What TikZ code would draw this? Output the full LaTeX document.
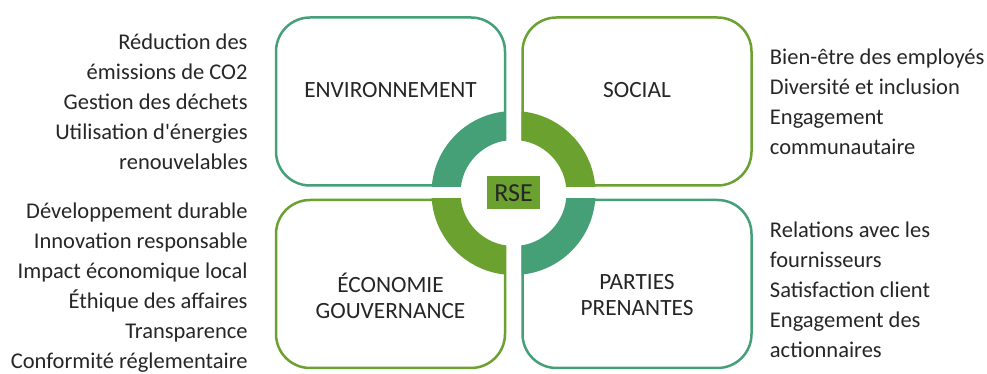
\documentclass[tikz,border=0pt]{standalone}
\usepackage{fontspec}
\setmainfont{Carlito}
\usetikzlibrary{positioning, calc}
\definecolor{rseteal}{HTML}{45A078}
\definecolor{rsegreen}{HTML}{6AA12F}
\definecolor{rsetext}{HTML}{262626}

\begin{document}
\begin{tikzpicture}[x=1pt, y=1pt,
	quadbox/.style={draw, line width=2.5pt, fill=white, rounded corners=34pt,
		minimum width=229pt, minimum height=168pt, inner sep=0pt},
	quadlabel/.style={text=rsetext, align=center, font=\fontsize{23.3}{26}\selectfont},
	sidetext/.style={text=rsetext, font=\fontsize{22.5}{30}\selectfont, inner sep=0pt}]
	\useasboundingbox (0,0) rectangle (987,374);
	\coordinate (hub) at (513.5,181);

	% the four pillars
	\node[quadbox, draw=rseteal] (env) at (390.5,272.5) {};
	\node[quadbox, draw=rsegreen] (soc) at (637,272.5) {};
	\node[quadbox, draw=rsegreen] (eco) at (390.5,90) {};
	\node[quadbox, draw=rseteal] (part) at (637,90) {};
	\node[quadlabel] (envlbl) at ([yshift=11.5]env.center) {ENVIRONNEMENT};
	\node[quadlabel] (soclbl) at ([yshift=11.5]soc.center) {SOCIAL};
	\node[quadlabel] (ecolbl) at ([yshift=-11.5]eco.center) {ÉCONOMIE\\GOUVERNANCE};
	\node[quadlabel] (partlbl) at ([yshift=-11.5]part.center) {PARTIES\\PRENANTES};

	% ring round the centre
	\fill[white] (hub) circle (53pt);
	\foreach \sx/\sy/\col in {-1/1/rseteal, 1/1/rsegreen, -1/-1/rsegreen, 1/-1/rseteal}{
		\begin{scope}
			\clip ($(hub)+(\sx*8,\sy*6)$) rectangle ($(hub)+(\sx*100,\sy*100)$);
			\fill[\col, even odd rule] (hub) circle (82pt) (hub) circle (53pt);
		\end{scope}
	}
	\node[fill=rsegreen, minimum width=53pt, minimum height=33pt, inner sep=0pt,
		text=rsetext, font=\fontsize{26}{26}\selectfont] (rse) at (hub) {RSE};

	% actions of each pillar
	\node[sidetext, anchor=east, align=right] (envtxt) at ([xshift=-27]env.west)
		{Réduction des\\émissions de CO2\\Gestion des déchets\\Utilisation d\textquotesingle énergies\\renouvelables};
	\node[sidetext, anchor=east, align=right] (ecotxt) at ([xshift=-27,yshift=-4]eco.west)
		{Développement durable\\Innovation responsable\\Impact économique local\\Éthique des affaires\\Transparence\\Conformité réglementaire};
	\node[sidetext, anchor=west, align=left] (soctxt) at ([xshift=17]soc.east)
		{Bien-être des employés\\Diversité et inclusion\\Engagement\\communautaire};
	\node[sidetext, anchor=west, align=left] (parttxt) at ([xshift=17,yshift=-6]part.east)
		{Relations avec les\\fournisseurs\\Satisfaction client\\Engagement des\\actionnaires};
\end{tikzpicture}
\end{document}
